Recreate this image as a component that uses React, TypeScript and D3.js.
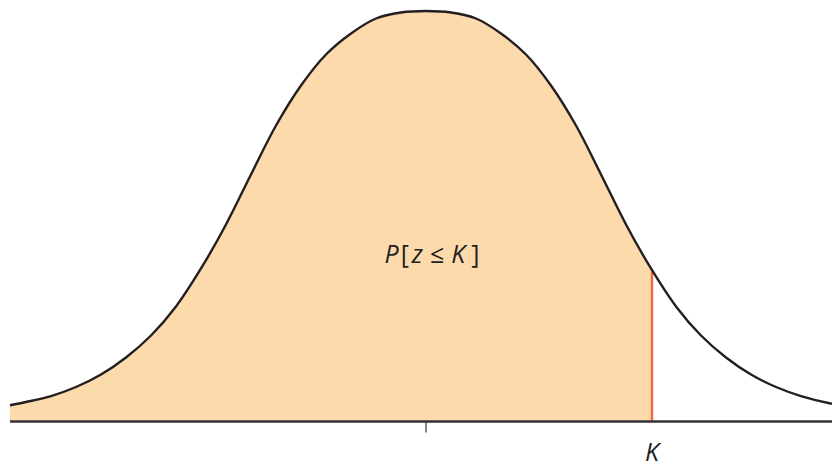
import React from "react";
import * as d3 from "d3";

// Curve: z positions and density heights
const zValues = [-3.328, -3.2, -3.0, -2.8, -2.6, -2.4, -2.2, -2.0, -1.8, -1.6, -1.4, -1.2, -1.0, -0.8, -0.6, -0.4, -0.2, 0.0, 0.2, 0.4, 0.6, 0.8, 1.0, 1.2, 1.4, 1.6, 1.8, 2.0, 2.2, 2.4, 2.6, 2.8, 3.0, 3.248];
const densities = [0.0158, 0.019, 0.0248, 0.0336, 0.0458, 0.0624, 0.0838, 0.1121, 0.1491, 0.192, 0.2407, 0.2884, 0.3274, 0.3576, 0.3781, 0.3927, 0.3985, 0.4, 0.3985, 0.3927, 0.3781, 0.3576, 0.3274, 0.2884, 0.2407, 0.192, 0.1491, 0.1121, 0.0838, 0.0624, 0.0458, 0.0336, 0.0248, 0.0172];
const kValue = 1.808;
const kDensity = 0.1462;
const meanTick = [0];
const labelK = "K";

const W = 832;
const H = 468;

export default function App() {
  const x = d3.scaleLinear().domain([-3.328, 3.248]).range([10, 832]);
  const y = d3.scaleLinear().domain([0, 0.4]).range([421.5, 11]);
  const pts = zValues.map((z, i) => [z, densities[i]] as [number, number]);
  const curve = d3.curveCatmullRom.alpha(0.5);
  const line = d3
    .line<[number, number]>()
    .x((d) => x(d[0]))
    .y((d) => y(d[1]))
    .curve(curve);
  const area = d3
    .area<[number, number]>()
    .x((d) => x(d[0]))
    .y0(y(0))
    .y1((d) => y(d[1]))
    .curve(curve);
  const xK = x(kValue);

  return (
    <svg
      width={W}
      height={H}
      style={{ position: "absolute", left: 0, top: 0, background: "#fff" }}
    >
      <defs>
        <clipPath id="leftOfK">
          <rect x={0} y={0} width={xK} height={H} />
        </clipPath>
      </defs>
      <path d={area(pts) || ""} fill="#FCDAAB" clipPath="url(#leftOfK)" />
      <line
        x1={xK}
        x2={xK}
        y1={y(0)}
        y2={y(kDensity)}
        stroke="#F26A3C"
        strokeWidth={2.4}
      />
      <path d={line(pts) || ""} fill="none" stroke="#231F20" strokeWidth={2.4} />
      <line x1={10} x2={832} y1={y(0)} y2={y(0)} stroke="#333333" strokeWidth={2.6} />
      {meanTick.map((t) => (
        <line
          key={t}
          x1={x(t)}
          x2={x(t)}
          y1={y(0)}
          y2={y(0) + 11}
          stroke="#333333"
          strokeWidth={1.2}
        />
      ))}
      <text
        x={432}
        y={263}
        textAnchor="middle"
        fontFamily="'Open Sans', 'Noto Sans', sans-serif"
        fontSize={25}
        fill="#231F20"
      >
        <tspan fontStyle="italic">P</tspan>
        <tspan dx={2}>[</tspan>
        <tspan dx={3} fontStyle="italic">z</tspan>
        <tspan dx={7}>≤</tspan>
        <tspan dx={7} fontStyle="italic">K</tspan>
        <tspan dx={6}>]</tspan>
      </text>
      <text
        x={xK}
        y={461}
        textAnchor="middle"
        fontFamily="'Open Sans', 'Noto Sans', sans-serif"
        fontSize={25}
        fontStyle="italic"
        fill="#231F20"
      >
        {labelK}
      </text>
    </svg>
  );
}
